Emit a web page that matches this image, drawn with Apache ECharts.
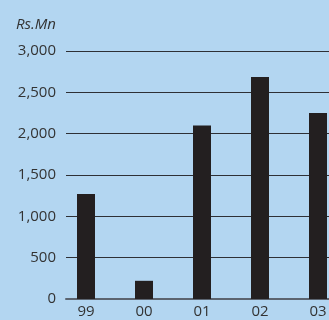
<!DOCTYPE html>
<html>
<head>
<meta charset="utf-8">
<script src="https://cdn.jsdelivr.net/npm/echarts@6/dist/echarts.min.js"></script>
<style>
  html, body { margin: 0; padding: 0; background: #b3d6f1; }
  #chart { width: 329px; height: 320px; }
</style>
</head>
<body>
<div id="chart"></div>
<script>
// Yearly figures, Rs. million
const years = ['99', '00', '01', '02', '03'];
const values = [1270, 220, 2100, 2685, 2250];
const yTicks = [0, 500, 1000, 1500, 2000, 2500, 3000];

const FONT = '"Open Sans", "Noto Sans", sans-serif';
const TOP = 51, BOTTOM = 21;

const chart = echarts.init(document.getElementById('chart'), null, { renderer: 'canvas' });
chart.setOption({
  backgroundColor: '#b3d6f1',
  animation: false,
  graphic: [{
    type: 'text', left: 16, top: 17,
    style: { text: 'Rs.Mn', font: 'italic 15px ' + FONT, fill: '#333' }
  }],
  grid: [
    // grid for the horizontal rules and value labels
    { left: 66, right: 0, top: TOP, bottom: BOTTOM, outerBoundsMode: 'none' },
    // grid for the bars (wider so the category bands line up)
    { left: 57, width: 290, top: TOP, bottom: BOTTOM, outerBoundsMode: 'none' }
  ],
  xAxis: [
    {
      gridIndex: 0, type: 'category', data: years,
      axisLine: { show: true, lineStyle: { color: '#5b6470', width: 2 } },
      axisTick: { show: false },
      axisLabel: { show: false },
      splitLine: { show: false }
    },
    {
      gridIndex: 1, type: 'category', data: years,
      axisLine: { show: false },
      axisTick: { show: false },
      axisLabel: { color: '#333', fontFamily: FONT, fontSize: 15, margin: 5 }
    }
  ],
  yAxis: [
    {
      gridIndex: 0, type: 'value', min: yTicks[0], max: yTicks[yTicks.length - 1], interval: 500,
      axisLine: { show: false },
      axisTick: { show: false },
      axisLabel: {
        color: '#333', fontFamily: FONT, fontSize: 15, margin: 10,
        formatter: v => v.toLocaleString('en-US')
      },
      splitLine: { show: true, lineStyle: { color: '#2e3036', width: 1 } }
    },
    {
      gridIndex: 1, type: 'value', min: yTicks[0], max: yTicks[yTicks.length - 1], interval: 500,
      show: false, splitLine: { show: false }
    }
  ],
  series: [{
    type: 'bar',
    xAxisIndex: 1, yAxisIndex: 1,
    data: values,
    barWidth: 18,
    itemStyle: { color: '#231f20' }
  }]
});
</script>
</body>
</html>
